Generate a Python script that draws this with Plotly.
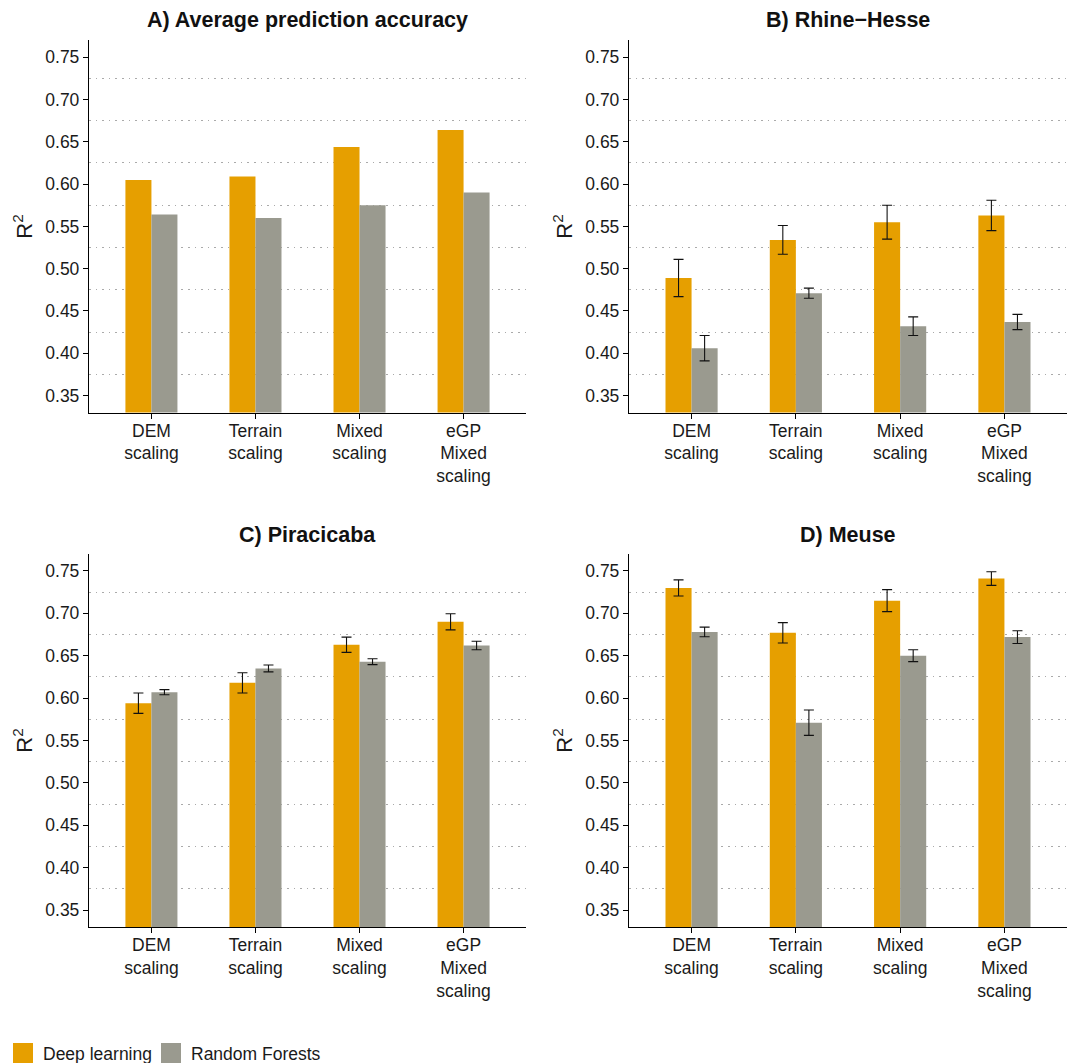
import plotly.graph_objects as go

# Categories (scaling approaches)
categories = ["DEM<br>scaling", "Terrain<br>scaling", "Mixed<br>scaling", "eGP<br>Mixed<br>scaling"]

# Panel titles
panel_titles = ["A) Average prediction accuracy", "B) Rhine\u2212Hesse", "C) Piracicaba", "D) Meuse"]

# R² values per panel: deep learning (dl) and random forests (rf), with standard errors
avg_dl = [0.605, 0.609, 0.644, 0.664]
avg_rf = [0.564, 0.560, 0.575, 0.590]

rhine_dl = [0.489, 0.534, 0.555, 0.563]
rhine_dl_err = [0.022, 0.017, 0.020, 0.018]
rhine_rf = [0.406, 0.471, 0.432, 0.437]
rhine_rf_err = [0.015, 0.006, 0.011, 0.009]

pira_dl = [0.594, 0.618, 0.663, 0.690]
pira_dl_err = [0.012, 0.012, 0.009, 0.0095]
pira_rf = [0.607, 0.635, 0.643, 0.662]
pira_rf_err = [0.003, 0.004, 0.0035, 0.005]

meuse_dl = [0.730, 0.677, 0.715, 0.741]
meuse_dl_err = [0.0095, 0.012, 0.013, 0.008]
meuse_rf = [0.678, 0.571, 0.650, 0.672]
meuse_rf_err = [0.0057, 0.015, 0.007, 0.0075]

y_ticks = [0.35, 0.40, 0.45, 0.50, 0.55, 0.60, 0.65, 0.70, 0.75]

DL_COLOR = "#E69F00"
RF_COLOR = "#9A9A8F"
FONT = "Liberation Sans, Arial, Helvetica, sans-serif"
TEXT = "#1a1a1a"

panels = [
    (avg_dl, None, avg_rf, None),
    (rhine_dl, rhine_dl_err, rhine_rf, rhine_rf_err),
    (pira_dl, pira_dl_err, pira_rf, pira_rf_err),
    (meuse_dl, meuse_dl_err, meuse_rf, meuse_rf_err),
]

W, H = 1072, 1063
x_domains = [[89 / W, 526 / W], [629 / W, 1067 / W]]
y_domains = [[1 - 412.5 / H, 1 - 40.3 / H], [1 - 927 / H, 1 - 554 / H]]
title_y = [1 - 20 / H, 1 - 535 / H]

fig = go.Figure()

def err(vals):
    if vals is None:
        return None
    return dict(type="data", array=vals, visible=True, color="#111111",
                thickness=1.1, width=5)

for i, (dl, dl_e, rf, rf_e) in enumerate(panels):
    sfx = "" if i == 0 else str(i + 1)
    fig.add_trace(go.Bar(
        x=categories, y=dl, name="Deep learning", marker_color=DL_COLOR,
        marker_line_width=0, error_y=err(dl_e), legendgroup="dl",
        showlegend=False, xaxis="x" + sfx, yaxis="y" + sfx,
    ))
    fig.add_trace(go.Bar(
        x=categories, y=rf, name="Random Forests", marker_color=RF_COLOR,
        marker_line_width=0, error_y=err(rf_e), legendgroup="rf",
        showlegend=False, xaxis="x" + sfx, yaxis="y" + sfx,
    ))

# Legend keys: filled squares for the two methods, one legend box each
for name, color, grp, leg in [("Deep learning", DL_COLOR, "dl", "legend"),
                              ("Random Forests", RF_COLOR, "rf", "legend2")]:
    fig.add_trace(go.Scatter(
        x=[None], y=[None], mode="markers", name=name, legendgroup=grp,
        marker=dict(symbol="square", size=16, color=color,
                    line=dict(color=color, width=4)),
        showlegend=True, hoverinfo="skip", legend=leg,
    ))

legend_style = dict(
    orientation="h", xref="paper", yref="paper",
    y=-8 / H, xanchor="left", yanchor="bottom",
    font=dict(size=17.5, color=TEXT), itemwidth=30, itemsizing="trace",
    bgcolor="rgba(0,0,0,0)",
)

layout = dict(
    width=W, height=H,
    margin=dict(l=0, r=0, t=0, b=0, autoexpand=False),
    paper_bgcolor="white", plot_bgcolor="white",
    barmode="group", bargap=0.5, bargroupgap=0,
    font=dict(family=FONT, size=17.5, color=TEXT),
    showlegend=True,
    legend=dict(legend_style, x=3 / W),
    legend2=dict(legend_style, x=151 / W),
    annotations=[],
)

for i in range(4):
    sfx = "" if i == 0 else str(i + 1)
    col, row = i % 2, i // 2
    layout["xaxis" + sfx] = dict(
        domain=x_domains[col], anchor="y" + sfx, type="category",
        categoryorder="array", categoryarray=categories,
        range=[-0.6, 3.6], showline=True, linecolor="black", linewidth=1.3,
        ticks="outside", ticklen=5, tickwidth=1.2, tickcolor="black",
        showgrid=False, zeroline=False, automargin=False,
        tickfont=dict(size=17.5, color=TEXT), ticklabelstandoff=-3,
    )
    layout["yaxis" + sfx] = dict(
        domain=y_domains[row], anchor="x" + sfx, range=[0.33, 0.77],
        tickvals=y_ticks, tickformat=".2f", showline=True, linecolor="black",
        linewidth=1.3, ticks="outside", ticklen=5, tickwidth=1.2,
        tickcolor="black", showgrid=False, zeroline=False, automargin=False,
        tickfont=dict(size=17.5, color=TEXT),
        title=dict(text="R<sup>2</sup>", font=dict(size=22, color=TEXT),
                   standoff=6),
        minor=dict(showgrid=True, tick0=0.375, dtick=0.05,
                   gridcolor="#aaaaaa", gridwidth=1.3, griddash="1.6px,5px",
                   ticks=""),
    )
    layout["annotations"].append(dict(
        text="<b>" + panel_titles[i] + "</b>", xref="paper", yref="paper",
        x=sum(x_domains[col]) / 2, y=title_y[row], xanchor="center",
        yanchor="middle", showarrow=False,
        font=dict(size=21.5, family=FONT, color="#111111"),
    ))

fig.update_layout(**layout)
fig.write_html("out.html")
